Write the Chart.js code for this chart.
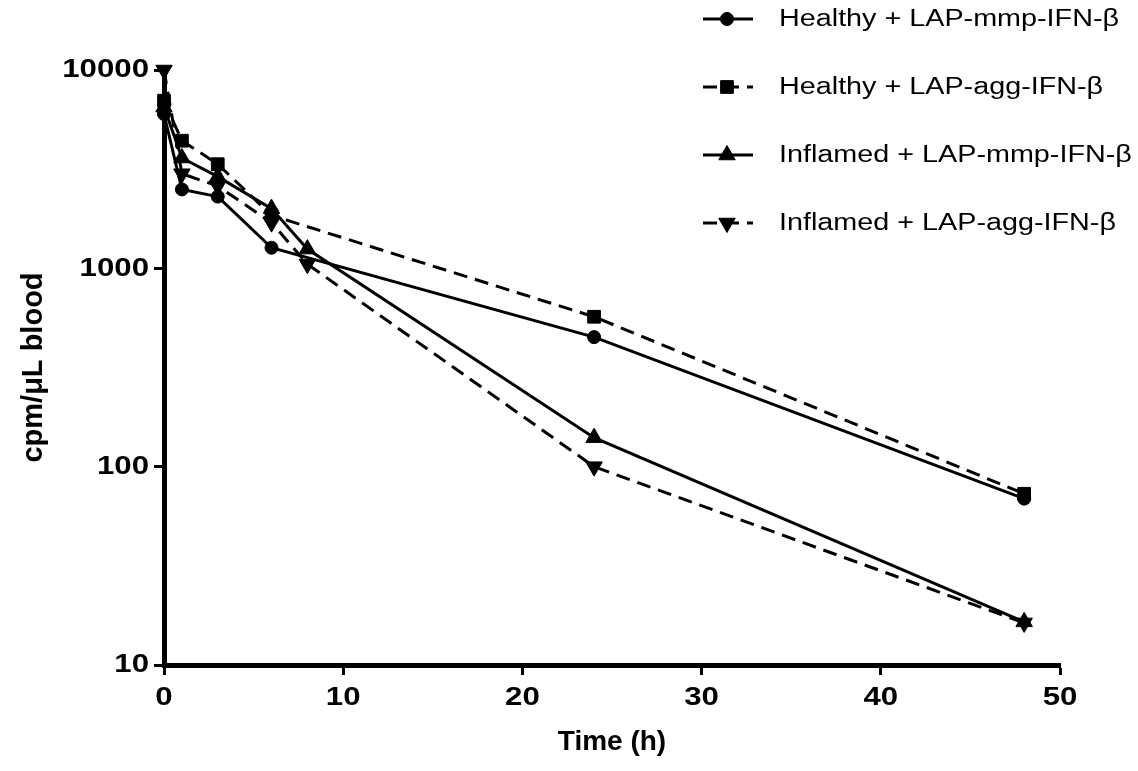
<!DOCTYPE html>
<html>
<head>
<meta charset="utf-8">
<script src="https://cdn.jsdelivr.net/npm/chart.js@4/dist/chart.umd.min.js"></script>
<style>
  html, body { margin: 0; padding: 0; background: #fff; }
  #wrap { width: 1138px; height: 771px; }
</style>
</head>
<body>
<div id="wrap"><canvas id="c" width="1138" height="771"></canvas></div>
<script>
// ---- data ----
const healthyHours = [0, 1, 3, 6, 24, 48];
const inflamedHours = [0, 1, 3, 6, 8, 24, 48];
const healthyMmp = [6000, 2500, 2300, 1270, 450, 69];
const healthyAgg = [7000, 4400, 3350, 1850, 570, 73];
const inflamedMmp = [6500, 3600, 2900, 2000, 1250, 140, 16.5];
const inflamedAgg = [10000, 3000, 2600, 1700, 1050, 100, 16.3];
const seriesNames = [
  'Healthy + LAP-mmp-IFN-\u03B2',
  'Healthy + LAP-agg-IFN-\u03B2',
  'Inflamed + LAP-mmp-IFN-\u03B2',
  'Inflamed + LAP-agg-IFN-\u03B2'
];
const yTickValues = [10, 100, 1000, 10000];
const xTickValues = [0, 10, 20, 30, 40, 50];
const xMin = 0, xMax = 50;
const yMin = 10, yMax = 10000;

const FONT = "'Liberation Sans', Arial, Helvetica, sans-serif";
const DASH = [14, 8];
const STRETCH_TICK = 1.2;
const STRETCH_LEGEND = 1.25;

function pts(xs, ys) { return xs.map((x, i) => ({ x: x, y: ys[i] })); }

const styles = [
  { pointStyle: 'circle', radius: 6.5, rotation: 0, dash: [] },
  { pointStyle: 'rect', radius: 9, rotation: 0, dash: DASH },
  { pointStyle: 'triangle', radius: 9.5, rotation: 0, dash: [] },
  { pointStyle: 'triangle', radius: 9.5, rotation: 180, dash: DASH }
];
const seriesData = [
  pts(healthyHours, healthyMmp),
  pts(healthyHours, healthyAgg),
  pts(inflamedHours, inflamedMmp),
  pts(inflamedHours, inflamedAgg)
];

const datasets = seriesData.map((d, i) => ({
  label: seriesNames[i],
  data: d,
  borderColor: '#000',
  backgroundColor: '#000',
  borderWidth: 3,
  borderDash: styles[i].dash,
  pointStyle: styles[i].pointStyle,
  pointRadius: styles[i].radius,
  pointRotation: styles[i].rotation,
  pointBackgroundColor: '#000',
  pointBorderColor: '#000',
  pointBorderWidth: 1,
  tension: 0,
  fill: false,
  clip: false
}));

function stretchedText(ctx, text, x, y, sx, align) {
  ctx.save();
  ctx.translate(x, y);
  ctx.scale(sx, 1);
  ctx.textAlign = align;
  ctx.textBaseline = 'middle';
  ctx.fillText(text, 0, 0);
  ctx.restore();
}

const textPlugin = {
  id: 'stretchedText',
  afterDraw(chart) {
    const ctx = chart.ctx;
    const xs = chart.scales.x, ys = chart.scales.y;
    ctx.save();
    ctx.fillStyle = '#000';
    // tick labels, positioned through the library's scales
    ctx.font = "bold 26px " + FONT;
    yTickValues.forEach(v => {
      stretchedText(ctx, String(v), 149, ys.getPixelForValue(v), STRETCH_TICK, 'right');
    });
    xTickValues.forEach(v => {
      stretchedText(ctx, String(v), xs.getPixelForValue(v), 698, STRETCH_TICK, 'center');
    });
    // legend
    const rows = [19, 87, 155, 223];
    const x0 = 703, x1 = 753, mx = 727, tx = 779;
    seriesNames.forEach((name, i) => {
      const y = rows[i];
      const st = styles[i];
      ctx.strokeStyle = '#000';
      ctx.lineWidth = 3;
      ctx.setLineDash(st.dash);
      ctx.beginPath();
      ctx.moveTo(x0, y);
      ctx.lineTo(x1, y);
      ctx.stroke();
      ctx.setLineDash([]);
      ctx.fillStyle = '#000';
      ctx.lineWidth = 1;
      Chart.helpers.drawPoint(ctx, {
        pointStyle: st.pointStyle,
        radius: st.radius,
        rotation: st.rotation,
        borderWidth: 1
      }, mx, y);
      ctx.font = "23px " + FONT;
      stretchedText(ctx, name, tx, y + 1, STRETCH_LEGEND, 'left');
    });
    ctx.restore();
  }
};

new Chart(document.getElementById('c'), {
  type: 'line',
  data: { datasets: datasets },
  plugins: [textPlugin],
  options: {
    responsive: false,
    devicePixelRatio: 1,
    animation: false,
    layout: { padding: { top: 70, right: 78, left: 0, bottom: 0 } },
    plugins: { legend: { display: false }, tooltip: { enabled: false } },
    scales: {
      x: {
        type: 'linear',
        min: xMin, max: xMax,
        afterFit(scale) { scale.height = 106; },
        afterBuildTicks(scale) { scale.ticks = xTickValues.map(v => ({ value: v })); },
        border: { display: true, color: '#000', width: 5 },
        grid: { display: true, drawOnChartArea: false, drawTicks: true, tickLength: 10, tickWidth: 3, tickColor: '#000' },
        ticks: { display: false },
        title: {
          display: true, text: 'Time (h)', color: '#000',
          font: { family: FONT, size: 28, weight: 'bold' },
          padding: { top: 0, bottom: 12 }
        }
      },
      y: {
        type: 'logarithmic',
        min: yMin, max: yMax,
        afterFit(scale) { scale.width = 164; },
        afterBuildTicks(scale) { scale.ticks = yTickValues.map(v => ({ value: v })); },
        border: { display: true, color: '#000', width: 5 },
        grid: { display: true, drawOnChartArea: false, drawTicks: true, tickLength: 10, tickWidth: 3, tickColor: '#000' },
        ticks: { display: false },
        title: {
          display: true, text: 'cpm/\u03BCL blood', color: '#000',
          font: { family: FONT, size: 29, weight: 'bold' },
          padding: { top: 17, bottom: 0 }
        }
      }
    }
  }
});
</script>
</body>
</html>
